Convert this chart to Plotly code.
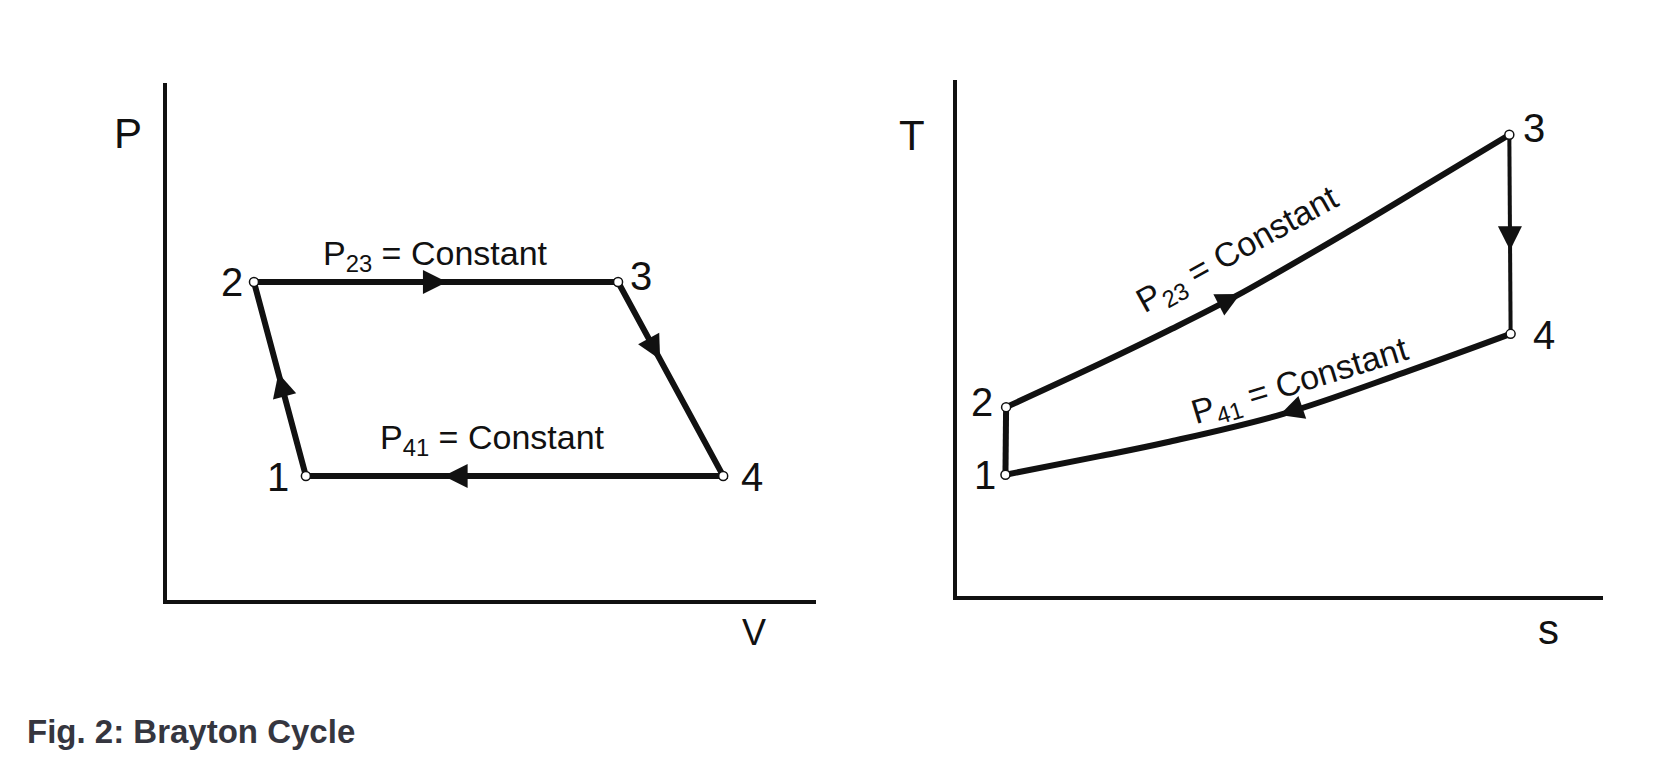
import plotly.graph_objects as go

# ---------------- data (arbitrary 0-100 units) ----------------
pv_states = ["1", "2", "3", "4"]
pv_v = [21.4, 13.4, 69.5, 85.7]
pv_p = [24.0, 61.5, 61.5, 24.0]

ts_states = ["1", "2", "3", "4"]
ts_s = [7.5, 7.6, 85.5, 85.7]
ts_T = [23.5, 36.6, 89.4, 50.8]

# constant-pressure curves on the T-s diagram
curve23_s = [7.6, 22.1, 32.5, 43.0, 60.8, 73.7, 85.5]
curve23_T = [36.6, 45.0, 51.3, 58.0, 70.8, 80.5, 89.4]
curve41_s = [85.7, 69.2, 50.5, 32.5, 22.1, 7.5]
curve41_T = [50.8, 43.3, 35.3, 29.8, 27.1, 23.5]

axis_labels_pv = ["V", "P"]
axis_labels_ts = ["s", "T"]
caption = "Fig. 2: Brayton Cycle"

# ---------------- figure ----------------
BLACK = "#111111"
LW = 6
W, H = 1666, 770
fig = go.Figure()

# P-v cycle (closed loop 1-2-3-4-1)
fig.add_trace(go.Scatter(
    x=pv_v + pv_v[:1], y=pv_p + pv_p[:1], mode="lines",
    line=dict(color=BLACK, width=LW), xaxis="x", yaxis="y", hoverinfo="skip"))
fig.add_trace(go.Scatter(
    x=pv_v, y=pv_p, mode="markers",
    marker=dict(size=9, color="white", line=dict(color=BLACK, width=1.5)),
    xaxis="x", yaxis="y", hoverinfo="skip"))

# T-s cycle
fig.add_trace(go.Scatter(
    x=curve23_s, y=curve23_T, mode="lines", line=dict(color=BLACK, width=LW, shape="spline", smoothing=1.0),
    xaxis="x2", yaxis="y2", hoverinfo="skip"))
fig.add_trace(go.Scatter(
    x=curve41_s, y=curve41_T, mode="lines", line=dict(color=BLACK, width=LW, shape="spline", smoothing=1.0),
    xaxis="x2", yaxis="y2", hoverinfo="skip"))
fig.add_trace(go.Scatter(
    x=[ts_s[2], ts_s[3]], y=[ts_T[2], ts_T[3]], mode="lines", line=dict(color=BLACK, width=LW - 2),
    xaxis="x2", yaxis="y2", hoverinfo="skip"))
fig.add_trace(go.Scatter(
    x=[ts_s[0], ts_s[1]], y=[ts_T[0], ts_T[1]], mode="lines", line=dict(color=BLACK, width=LW),
    xaxis="x2", yaxis="y2", hoverinfo="skip"))
fig.add_trace(go.Scatter(
    x=ts_s, y=ts_T, mode="markers",
    marker=dict(size=9, color="white", line=dict(color=BLACK, width=1.5)),
    xaxis="x2", yaxis="y2", hoverinfo="skip"))

annotations = []

def lerp(a, b, f):
    return a + (b - a) * f

def arrow(xa, ya, xb, yb, f, back, xr, yr):
    """Arrow head at fraction f of segment a->b, tail `back` fraction behind."""
    hx, hy = lerp(xa, xb, f), lerp(ya, yb, f)
    tx, ty = lerp(xa, xb, f - back), lerp(ya, yb, f - back)
    annotations.append(dict(x=hx, y=hy, ax=tx, ay=ty, xref=xr, yref=yr, axref=xr, ayref=yr,
                            text="", showarrow=True, arrowhead=2, arrowsize=2.4,
                            arrowwidth=2, arrowcolor=BLACK, standoff=0))

# P-v arrows: 1->2, 2->3, 3->4, 4->1
arrow(pv_v[0], pv_p[0], pv_v[1], pv_p[1], 0.53, 0.2, "x", "y")
arrow(pv_v[1], pv_p[1], pv_v[2], pv_p[2], 0.53, 0.15, "x", "y")
arrow(pv_v[2], pv_p[2], pv_v[3], pv_p[3], 0.40, 0.15, "x", "y")
arrow(pv_v[3], pv_p[3], pv_v[0], pv_p[0], 0.67, 0.15, "x", "y")

# T-s arrows
arrow(curve23_s[2], curve23_T[2], curve23_s[3], curve23_T[3], 1.08, 0.6, "x2", "y2")
arrow(ts_s[2], ts_T[2], ts_s[3], ts_T[3], 0.58, 0.2, "x2", "y2")
arrow(curve41_s[1], curve41_T[1], curve41_s[2], curve41_T[2], 1.03, 0.5, "x2", "y2")

NUMFONT = dict(family="Liberation Sans, Arial", size=40, color=BLACK)
pv_shift = [(-28, -1), (-22, 0), (23, 6), (29, -1)]
for st, xv, yv, (dx, dy) in zip(pv_states, pv_v, pv_p, pv_shift):
    annotations.append(dict(x=xv, y=yv, xref="x", yref="y", text=st, showarrow=False,
                            xshift=dx, yshift=dy, font=NUMFONT))
ts_shift = [(-20, 0), (-24, 5), (25, 7), (33, -1)]
for st, xv, yv, (dx, dy) in zip(ts_states, ts_s, ts_T, ts_shift):
    annotations.append(dict(x=xv, y=yv, xref="x2", yref="y2", text=st, showarrow=False,
                            xshift=dx, yshift=dy, font=NUMFONT))

LBLFONT = dict(family="Liberation Sans, Arial", size=34, color=BLACK)
annotations += [
    dict(x=41.4, y=66.6, xref="x", yref="y", text="P<sub>23</sub> = Constant", showarrow=False, font=LBLFONT),
    dict(x=50.1, y=31.1, xref="x", yref="y", text="P<sub>41</sub> = Constant", showarrow=False, font=LBLFONT),
    dict(x=43.6, y=66.9, xref="x2", yref="y2", text="P<sub>23</sub> = Constant", showarrow=False,
         font=LBLFONT, textangle=-29),
    dict(x=53.1, y=41.4, xref="x2", yref="y2", text="P<sub>41</sub> = Constant", showarrow=False,
         font=LBLFONT, textangle=-17),
]

AXFONT = dict(family="Liberation Sans, Arial", size=42, color=BLACK)
ax_lbl = dict(xref="paper", yref="paper", xanchor="center", yanchor="middle", showarrow=False)
annotations += [
    dict(x=128 / W, y=(H - 133) / H, text=axis_labels_pv[1], font=AXFONT, **ax_lbl),
    dict(x=754 / W, y=(H - 632) / H, text=axis_labels_pv[0],
         font=dict(family="Liberation Sans, Arial", size=36, color=BLACK), **ax_lbl),
    dict(x=912 / W, y=(H - 136) / H, text=axis_labels_ts[1], font=AXFONT, **ax_lbl),
    dict(x=1548 / W, y=(H - 629) / H, text=axis_labels_ts[0], font=AXFONT, **ax_lbl),
    dict(x=25 / W, y=(H - 731) / H, xref="paper", yref="paper", xanchor="left", yanchor="middle",
         text="<b>" + caption + "</b>", showarrow=False,
         font=dict(family="Liberation Sans, Arial", size=33, color="#35363f")),
]

axis_common = dict(range=[0, 100], showgrid=False, zeroline=False, showticklabels=False,
                   ticks="", showline=True, linecolor=BLACK, linewidth=4, fixedrange=True)

fig.update_layout(
    width=W, height=H,
    margin=dict(l=0, r=0, t=0, b=0),
    paper_bgcolor="white", plot_bgcolor="white",
    showlegend=False,
    xaxis=dict(domain=[167 / W, 816 / W], anchor="y", **axis_common),
    yaxis=dict(domain=[170 / H, 687 / H], anchor="x", **axis_common),
    xaxis2=dict(domain=[957 / W, 1603 / W], anchor="y2", **axis_common),
    yaxis2=dict(domain=[174 / H, 690 / H], anchor="x2", **axis_common),
    annotations=annotations,
)

fig.write_html("out.html", config={"displayModeBar": False},
               post_script="document.body.style.margin='0px';")
